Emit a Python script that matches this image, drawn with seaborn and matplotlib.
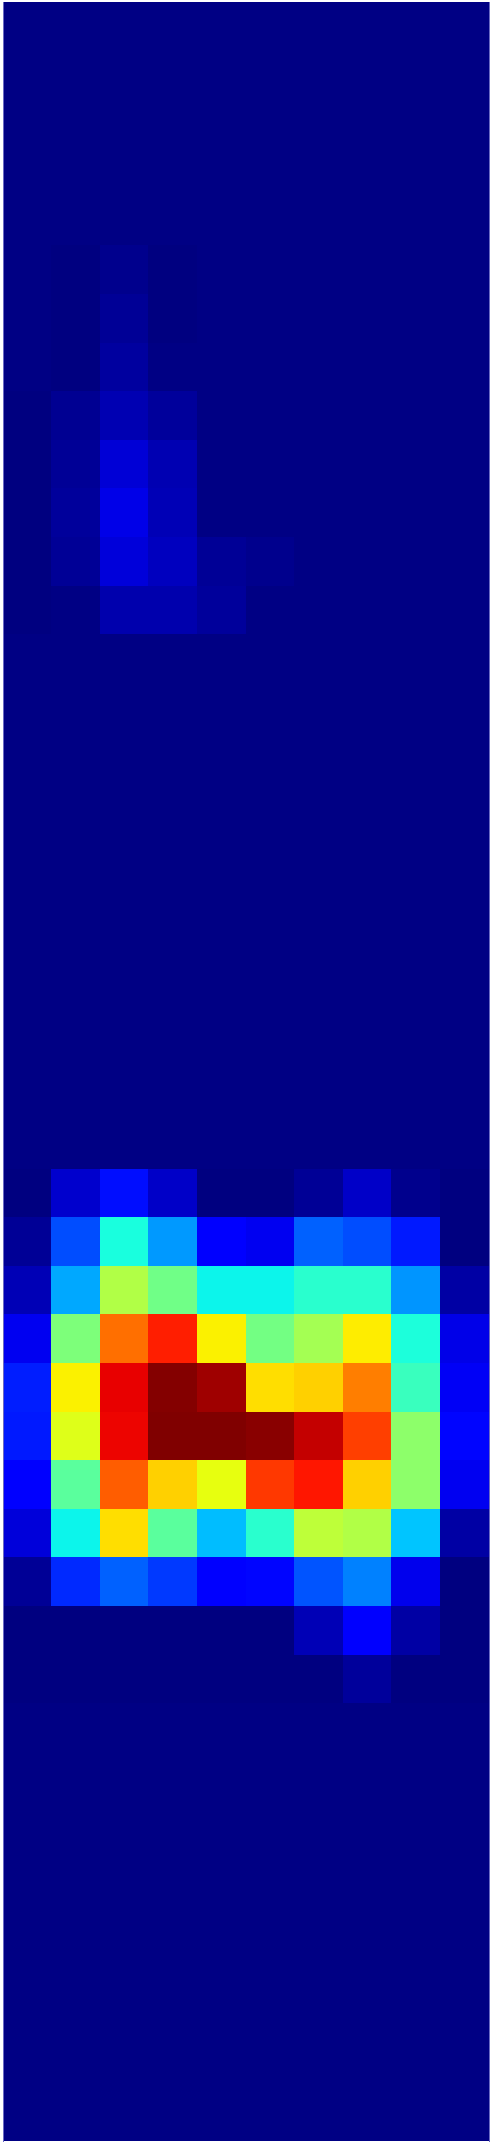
import matplotlib
matplotlib.use("Agg")
import matplotlib.pyplot as plt
import numpy as np
import seaborn as sns

n_rows = 44
n_cols = 10
bg = .005

# upper faint blob, rows 5 to 12
upper_rows = [
    [bg, 0, .012, 0, bg, bg, bg, bg, bg, bg],
    [bg, 0, .022, 0, bg, bg, bg, bg, bg, bg],
    [bg, 0, .028, .004, bg, bg, bg, bg, bg, bg],
    [0, .016, .045, .025, bg, bg, bg, bg, bg, bg],
    [0, .022, .078, .045, bg, bg, bg, bg, bg, bg],
    [0, .025, .090, .048, bg, bg, bg, bg, bg, bg],
    [0, .022, .080, .058, .022, .012, bg, bg, bg, bg],
    [0, .004, .040, .040, .027, bg, bg, bg, bg, bg],
]

# hot region, rows 24 to 34
lower_rows = [
    [0, .070, .140, .065, 0, 0, .022, .065, .012, 0],
    [.020, .200, .380, .275, .110, .100, .220, .200, .150, 0],
    [.050, .290, .565, .485, .365, .365, .400, .400, .270, .035],
    [.100, .500, .790, .876, .655, .490, .550, .660, .385, .090],
    [.155, .655, .910, .993, .970, .675, .690, .775, .420, .105],
    [.150, .620, .905, 1.00, 1.00, .990, .938, .840, .520, .130],
    [.110, .460, .810, .690, .630, .850, .885, .690, .520, .100],
    [.080, .365, .675, .460, .310, .400, .580, .565, .320, .035],
    [.020, .165, .220, .180, .115, .130, .210, .250, .095, 0],
    [0, 0, 0, 0, 0, 0, .050, .110, .035, 0],
    [0, 0, 0, 0, 0, 0, 0, .025, 0, 0],
]

grid = np.full((n_rows, n_cols), bg)
grid[5:13] = upper_rows
grid[24:35] = lower_rows

fig = plt.figure(figsize=(4.91, 21.43), dpi=100)
ax = fig.add_axes([2.5 / 491, 2.4 / 2143, 486 / 491, 2138.2 / 2143])
sns.heatmap(grid, cmap="jet", vmin=0, vmax=1, cbar=False, xticklabels=False, yticklabels=False, ax=ax)
for side in ["left", "right"]:
    ax.spines[side].set_visible(True)
    ax.spines[side].set_color("#6a6ac4")
    ax.spines[side].set_linewidth(0.72)
fig.savefig("out.png", dpi=100, facecolor="white")
